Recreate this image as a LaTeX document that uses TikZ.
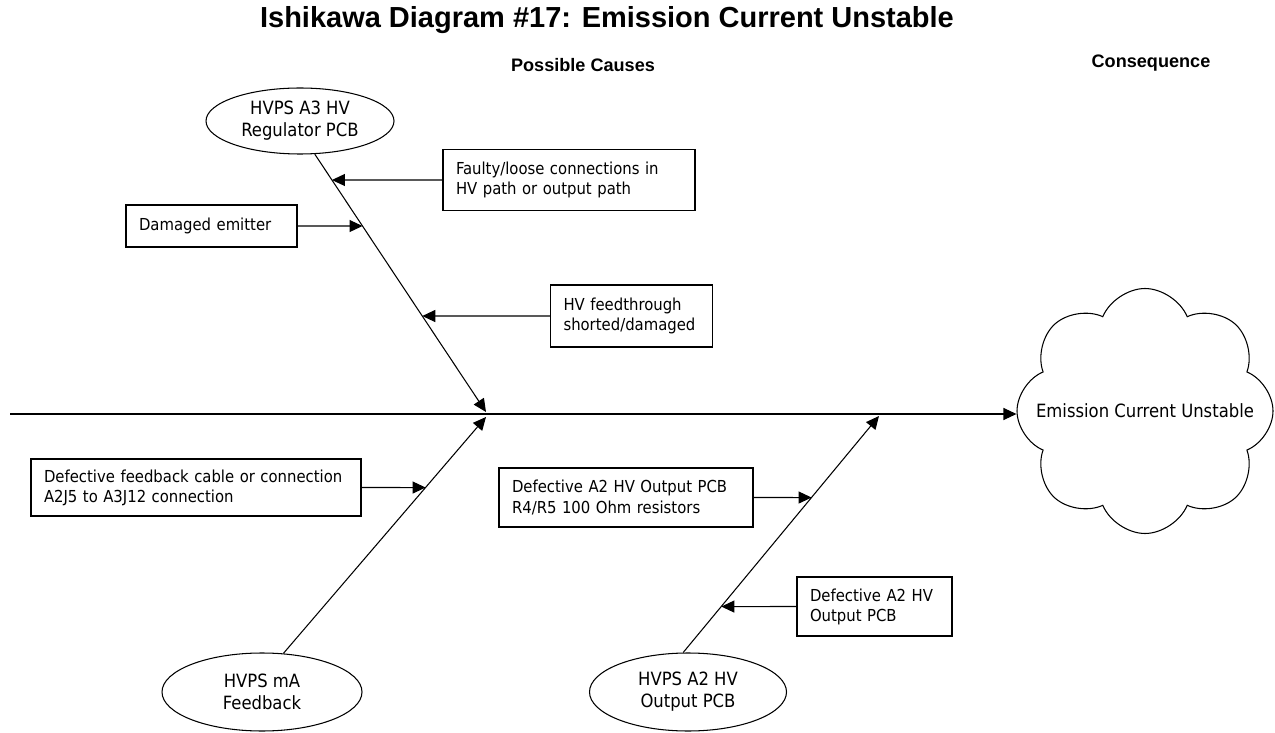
\documentclass[tikz,border=0pt]{standalone}
\usepackage{fontspec}
\setmainfont{DejaVu Sans Condensed}
\newfontfamily\headfont{Liberation Sans}
\usetikzlibrary{shapes.geometric,shapes.symbols,arrows.meta}
\newlength\unitpx
\setlength\unitpx{0.02cm}
\newcommand\causefont{\fontsize{9.4}{11.4}\selectfont}
\newcommand\partfont{\fontsize{10.4}{12.4}\selectfont}

\begin{document}
\begin{tikzpicture}[x=0.02cm,y=-0.02cm,line width=0.6pt,
  >={Triangle[length=0.26cm,width=0.24cm]},
  cause/.style={draw,rectangle,align=left,inner xsep=0.26cm,inner ysep=0pt,font=\causefont},
  part/.style={draw,ellipse,align=center,inner sep=0pt,font=\partfont},
  head/.style={font=\headfont\bfseries\fontsize{10.3}{12}\selectfont},
  bone/.style={->}]
\useasboundingbox (0,0) rectangle (1275,733);

\node[font=\headfont\bfseries\fontsize{16.5}{19}\selectfont] (title) at (607,20) {Ishikawa Diagram \#17: Emission Current Unstable};
\node[head] (causes) at (583,65) {Possible Causes};
\node[head] (conseq) at (1151,63) {Consequence};

\node[part,minimum width=188\unitpx,minimum height=66\unitpx] (regA) at (300,121) {HVPS A3 HV\\Regulator PCB};
\node[part,minimum width=200\unitpx,minimum height=78\unitpx] (fbB) at (262,692) {HVPS mA\\Feedback};
\node[part,minimum width=197\unitpx,minimum height=78\unitpx] (outC) at (688,692) {HVPS A2 HV\\Output PCB};
\node[draw,cloud,cloud puffs=8,cloud puff arc=135,aspect=1.07,inner sep=0pt,
  minimum width=256\unitpx,minimum height=245\unitpx,
  label={[font=\partfont]center:Emission Current Unstable}] (cons) at (1145,411) {};

\coordinate (tail) at (10,414);
\coordinate (hubA) at (486,412);
\coordinate (hubB) at (486,417);
\coordinate (hubC) at (879,416);

\node[cause,text width=226\unitpx,minimum height=61\unitpx] (loose) at (569,180) {Faulty/loose connections in\\HV path or output path};
\node[cause,text width=145\unitpx,minimum height=42\unitpx] (emit) at (211.5,226) {Damaged emitter};
\node[cause,text width=136\unitpx,minimum height=62\unitpx] (feed) at (631.5,316) {HV feedthrough\\shorted/damaged};
\node[cause,text width=304\unitpx,minimum height=57\unitpx] (cable) at (196,487.5) {Defective feedback cable or connection\\A2J5 to A3J12 connection};
\node[cause,text width=228\unitpx,minimum height=59\unitpx] (res) at (626,497.5) {Defective A2 HV Output PCB\\R4/R5 100 Ohm resistors};
\node[cause,text width=129\unitpx,minimum height=59\unitpx] (pcb) at (874.5,606.5) {Defective A2 HV\\Output PCB};

\draw[bone] (tail) -- (tail -| cons.west);
\draw[bone] (regA.-66) -- (hubA);
\draw[bone] (fbB.61) -- (hubB);
\draw[bone] (outC.97) -- (hubC);

\draw[bone] (loose.west) -- (intersection of loose.west--loose.east and regA.-66--hubA);
\draw[bone] (emit.east) -- (intersection of emit.west--emit.east and regA.-66--hubA);
\draw[bone] (feed.west) -- (intersection of feed.west--feed.east and regA.-66--hubA);
\draw[bone] (cable.east) -- (intersection of cable.west--cable.east and fbB.61--hubB);
\draw[bone] (res.east) -- (intersection of res.west--res.east and outC.97--hubC);
\draw[bone] (pcb.west) -- (intersection of pcb.west--pcb.east and outC.97--hubC);
\end{tikzpicture}
\end{document}
